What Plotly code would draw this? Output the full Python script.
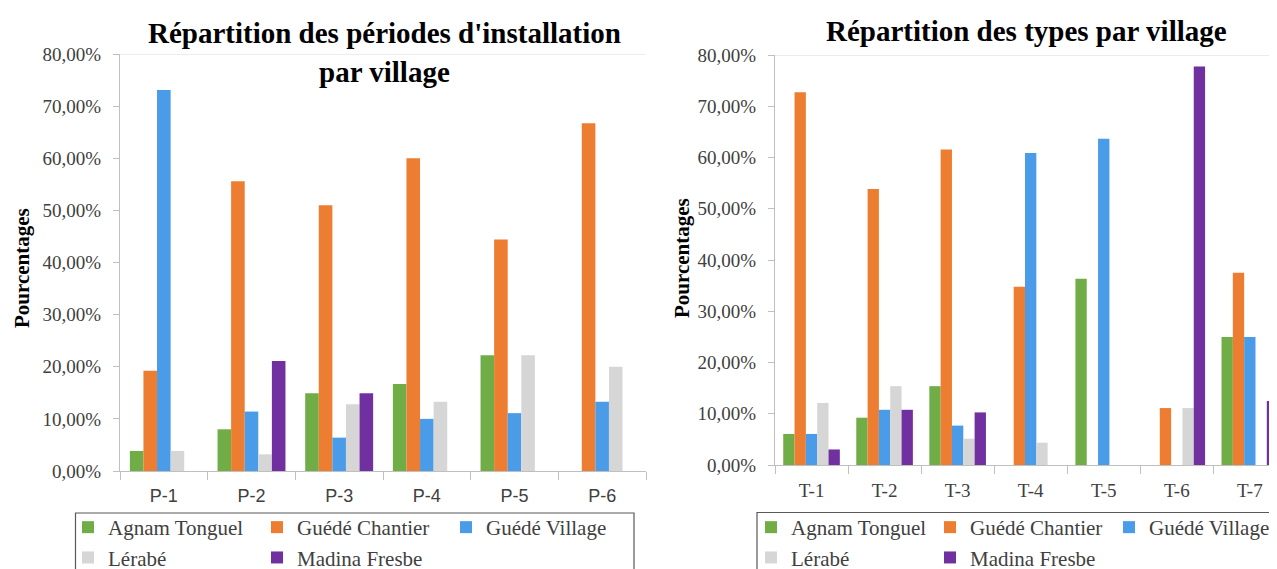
import plotly.graph_objects as go

W, H = 1277, 569
OFF = 8  # page body margin

villages = ["Agnam Tonguel", "Guédé Chantier", "Guédé Village", "Lérabé", "Madina Fresbe"]
colors = ["#70AD47", "#ED7D31", "#4A9BE8", "#D6D6D6", "#7030A0"]
groups = ["a", "b", "c", "a", "b"]

periodes = ["P-1", "P-2", "P-3", "P-4", "P-5", "P-6"]
types = ["T-1", "T-2", "T-3", "T-4", "T-5", "T-6", "T-7"]

# Répartition des périodes d'installation par village (%)
agnam_p = [3.85, 8.0, 14.9, 16.7, 22.2, 0]
chantier_p = [19.23, 55.6, 51.0, 60.0, 44.4, 66.7]
village_p = [73.08, 11.4, 6.4, 10.0, 11.1, 13.3]
lerabe_p = [3.85, 3.2, 12.8, 13.3, 22.2, 20.0]
madina_p = [0, 21.1, 14.9, 0, 0, 0]

# Répartition des types par village (%)
agnam_t = [6.06, 9.23, 15.38, 0, 36.36, 0, 25.0]
chantier_t = [72.73, 53.85, 61.54, 34.78, 0, 11.11, 37.5]
village_t = [6.06, 10.77, 7.69, 60.87, 63.64, 0, 25.0]
lerabe_t = [12.12, 15.38, 5.13, 4.35, 0, 11.11, 0]
madina_t = [3.03, 10.77, 10.26, 0, 0, 77.78, 12.5]

ytickvals = [0, 10, 20, 30, 40, 50, 60, 70, 80]
yticktext = ["0,00%", "10,00%", "20,00%", "30,00%", "40,00%", "50,00%", "60,00%", "70,00%", "80,00%"]

series_p = [agnam_p, chantier_p, village_p, lerabe_p, madina_p]
series_t = [agnam_t, chantier_t, village_t, lerabe_t, madina_t]

SERIF = "Liberation Serif"
SANS = "Liberation Sans"
AX = "#BFBFBF"
TXT = "#404040"


def px(x):
    return (x - OFF) / W


def py(y):
    return 1 - (y - OFF) / H


fig = go.Figure()
for name, vals, col, g in zip(villages, series_p, colors, groups):
    fig.add_trace(go.Bar(x=periodes, y=vals, name=name, marker_color=col,
                         marker_line_width=0, xaxis="x", yaxis="y",
                         legend="legend", legendgroup="L" + g))
for name, vals, col, g in zip(villages, series_t, colors, groups):
    fig.add_trace(go.Bar(x=types, y=vals, name=name, marker_color=col,
                         marker_line_width=0, xaxis="x2", yaxis="y2",
                         legend="legend2", legendgroup="R" + g))

xcommon = dict(type="category", showline=True, linecolor=AX, linewidth=1,
               ticks="outside", tickson="boundaries", ticklen=8, tickcolor=AX,
               showgrid=False, zeroline=False, ticklabelstandoff=8)
ycommon = dict(range=[0, 80], tickvals=ytickvals, ticktext=yticktext,
               showline=True, linecolor=AX, linewidth=1, ticks="outside",
               ticklen=6, tickcolor=AX, showgrid=False, zeroline=False,
               ticklabelstandoff=8,
               tickfont=dict(family=SERIF, size=19, color=TXT))

right_end = OFF + W  # page x of the figure's right edge
fig.update_layout(
    width=W, height=H,
    margin=dict(l=0, r=0, t=0, b=0, autoexpand=False),
    paper_bgcolor="white", plot_bgcolor="white",
    barmode="group", bargap=0.225, bargroupgap=0,
    xaxis=dict(domain=[px(120), px(646)], range=[-0.5, 5.5], anchor="y",
               tickfont=dict(family=SANS, size=18, color=TXT), **xcommon),
    yaxis=dict(domain=[py(471), py(54)], anchor="x", **ycommon),
    xaxis2=dict(domain=[px(775), 1], range=[-0.5, -0.5 + (right_end - 775) / 73.05], anchor="y2",
                tickfont=dict(family=SERIF, size=19, color=TXT), **xcommon),
    yaxis2=dict(domain=[py(465), py(55)], anchor="x2", **ycommon),
    legend=dict(orientation="h", traceorder="grouped", x=px(68), y=py(507),
                xanchor="left", yanchor="top", entrywidth=144, entrywidthmode="pixels",
                font=dict(family=SERIF, size=21, color=TXT), bgcolor="rgba(0,0,0,0)",
                borderwidth=0, itemwidth=30, tracegroupgap=0),
    legend2=dict(orientation="h", traceorder="grouped", x=px(751), y=py(507),
                 xanchor="left", yanchor="top", entrywidth=134, entrywidthmode="pixels",
                 font=dict(family=SERIF, size=21, color=TXT), bgcolor="rgba(0,0,0,0)",
                 borderwidth=0, itemwidth=30, tracegroupgap=0),
    showlegend=True,
)

# top border lines at 80%
fig.add_shape(type="line", xref="x domain", yref="y", x0=0, x1=1, y0=80, y1=80,
              line=dict(color="#D9D9D9", width=1))
fig.add_shape(type="line", xref="x2 domain", yref="y2", x0=0, x1=1, y0=80, y1=80,
              line=dict(color="#D9D9D9", width=1))

# legend boxes
fig.add_shape(type="rect", xref="paper", yref="paper", x0=px(75.5), x1=px(634),
              y0=py(600), y1=py(513), line=dict(color="#595959", width=1.2))
fig.add_shape(type="rect", xref="paper", yref="paper", x0=px(757), x1=px(1300),
              y0=py(600), y1=py(512.5), line=dict(color="#595959", width=1.2))

# titles
fig.add_annotation(text="<b>Répartition des périodes d'installation</b>", xref="paper", yref="paper",
                   x=px(385), y=py(33), xanchor="center", yanchor="middle", showarrow=False,
                   font=dict(family=SERIF, size=29, color="black"))
fig.add_annotation(text="<b>par village</b>", xref="paper", yref="paper",
                   x=px(385), y=py(72), xanchor="center", yanchor="middle", showarrow=False,
                   font=dict(family=SERIF, size=29, color="black"))
fig.add_annotation(text="<b>Répartition des types par village</b>", xref="paper", yref="paper",
                   x=px(1026), y=py(31), xanchor="center", yanchor="middle", showarrow=False,
                   font=dict(family=SERIF, size=29, color="black"))

# y-axis titles
fig.add_annotation(text="<b>Pourcentages</b>", xref="paper", yref="paper",
                   x=px(22), y=py(268), xanchor="center", yanchor="middle", showarrow=False,
                   textangle=-90, font=dict(family=SERIF, size=21, color="black"))
fig.add_annotation(text="<b>Pourcentages</b>", xref="paper", yref="paper",
                   x=px(682), y=py(258), xanchor="center", yanchor="middle", showarrow=False,
                   textangle=-90, font=dict(family=SERIF, size=21, color="black"))

fig.write_html("out.html")
